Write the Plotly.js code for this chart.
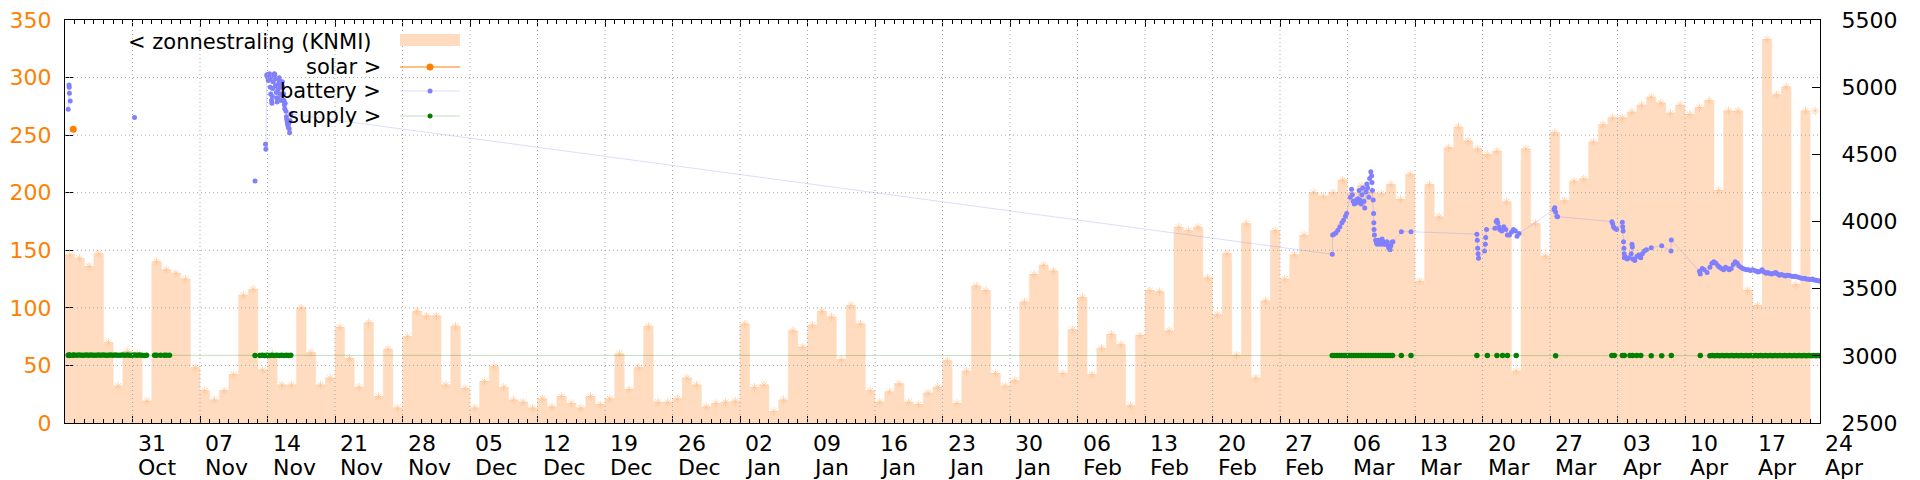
<!DOCTYPE html>
<html><head><meta charset="utf-8">
<script src="https://cdn.plot.ly/plotly-3.0.1.min.js"></script>
<style>html,body{margin:0;padding:0;background:#fff}#chart{width:1920px;height:480px}</style>
</head><body><div id="chart"></div>
<script>
// ---- daily solar radiation (KNMI), left axis, one value per day from knmiStart ----
const knmiStart = '2022-10-24';
const knmiValues = [
 146,143,136,147,70,32,62,60,19,140,
 133,130,125,48,28,20,28,42,111,116,
 46,60,33,33,100,61,33,39,83,56,
 31,87,23,64,13,75,97,93,93,33,
 84,30,13,36,49,31,20,18,13,21,
 14,23,17,13,23,16,21,60,29,48,
 84,18,18,21,39,33,14,17,18,19,
 86,31,33,10,20,80,66,85,97,92,
 55,102,86,28,18,27,34,18,16,26,
 31,54,17,45,119,115,43,32,37,105,
 129,137,132,43,81,109,42,65,77,68,
 15,76,115,114,80,170,167,170,126,94,
 147,59,173,39,106,167,125,146,163,200,
 197,200,211,200,206,200,199,207,194,216,
 123,207,179,239,257,245,238,233,236,192,
 45,238,173,145,252,193,210,212,244,259,
 265,265,270,276,283,278,269,276,268,274,
 280,202,271,271,115,102,333,285,292,120,
 271,271];

// ---- x axis ticks ----
const tickDates = ['2022-10-31','2022-11-07','2022-11-14','2022-11-21','2022-11-28','2022-12-05','2022-12-12','2022-12-19','2022-12-26',
 '2023-01-02','2023-01-09','2023-01-16','2023-01-23','2023-01-30','2023-02-06','2023-02-13','2023-02-20','2023-02-27',
 '2023-03-06','2023-03-13','2023-03-20','2023-03-27','2023-04-03','2023-04-10','2023-04-17','2023-04-24'];
const tickDays = ['31','07','14','21','28','05','12','19','26','02','09','16','23','30','06','13','20','27','06','13','20','27','03','10','17','24'];
const tickMonths = ['Oct','Nov','Nov','Nov','Nov','Dec','Dec','Dec','Dec','Jan','Jan','Jan','Jan','Jan','Feb','Feb','Feb','Feb','Mar','Mar','Mar','Mar','Apr','Apr','Apr','Apr'];
const leftTicks = [0,50,100,150,200,250,300,350];
const rightTicks = [2500,3000,3500,4000,4500,5000,5500];

// ---- solar (right axis) ----
const solarTime = ['2022-10-24 20:30'];
const solarValue = [4686];

// ---- battery (right axis); null = gap in the record ----
const batteryTime = [
 '2022-10-24 08:00','2022-10-24 10:00','2022-10-24 10:30','2022-10-24 11:00','2022-10-24 13:00','2022-10-24 14:00',
 '2022-10-31 05:00','2022-10-31 06:00',
 '2022-11-12 17:00','2022-11-12 18:00',
 '2022-11-13 19:00','2022-11-13 20:00',
 '2022-11-13 22:00','2022-11-13 23:00','2022-11-14 00:00','2022-11-14 01:00','2022-11-14 02:00','2022-11-14 04:00','2022-11-14 05:00','2022-11-14 06:00',
 '2022-11-14 07:00','2022-11-14 08:00','2022-11-14 10:00','2022-11-14 11:00','2022-11-14 12:00','2022-11-14 13:00','2022-11-14 14:00','2022-11-14 16:00',
 '2022-11-14 17:00','2022-11-14 18:00','2022-11-14 19:00','2022-11-14 20:00','2022-11-14 22:00','2022-11-14 23:00','2022-11-15 00:00','2022-11-15 01:00',
 '2022-11-15 02:00','2022-11-15 04:00','2022-11-15 05:00','2022-11-15 06:00','2022-11-15 07:00','2022-11-15 08:00','2022-11-15 10:00','2022-11-15 11:00',
 '2022-11-15 12:00','2022-11-15 13:00','2022-11-15 14:00','2022-11-15 16:00','2022-11-15 17:00','2022-11-15 18:00','2022-11-15 19:00','2022-11-15 20:00',
 '2022-11-15 22:00','2022-11-15 23:00','2022-11-16 00:00','2022-11-16 01:00','2022-11-16 02:00','2022-11-16 04:00','2022-11-16 05:00','2022-11-16 06:00',
 '2022-11-16 07:00','2022-11-16 08:00','2022-11-16 10:00',
 '2023-03-04 10:00','2023-03-04 11:00','2023-03-04 14:00','2023-03-04 19:00','2023-03-05 00:00','2023-03-05 05:00','2023-03-05 10:00','2023-03-05 14:00',
 '2023-03-05 19:00','2023-03-05 22:00','2023-03-06 07:00','2023-03-06 10:00','2023-03-06 12:00','2023-03-06 14:00','2023-03-06 17:00','2023-03-06 19:00',
 '2023-03-06 22:00','2023-03-07 00:00','2023-03-07 02:00','2023-03-07 05:00','2023-03-07 07:00','2023-03-07 10:00','2023-03-07 12:00','2023-03-07 14:00',
 '2023-03-07 17:00','2023-03-07 19:00','2023-03-07 22:00','2023-03-08 00:00','2023-03-08 02:00','2023-03-08 05:00','2023-03-08 07:00','2023-03-08 10:00',
 '2023-03-08 12:00','2023-03-08 13:00','2023-03-08 14:00','2023-03-08 16:00','2023-03-08 17:00','2023-03-08 17:30','2023-03-08 18:00','2023-03-08 19:00',
 '2023-03-08 22:00','2023-03-09 00:00','2023-03-09 02:00','2023-03-09 05:00','2023-03-09 07:00','2023-03-09 10:00','2023-03-09 12:00','2023-03-09 14:00',
 '2023-03-09 17:00','2023-03-09 19:00','2023-03-09 22:00','2023-03-10 00:00','2023-03-10 02:00','2023-03-10 05:00','2023-03-10 07:00','2023-03-10 10:00',
 '2023-03-10 12:00','2023-03-10 14:00','2023-03-10 17:00','2023-03-11 14:00','2023-03-12 14:00',
 '2023-03-19 10:00','2023-03-19 11:00','2023-03-19 12:00','2023-03-19 13:00','2023-03-19 14:00','2023-03-20 05:00','2023-03-20 07:00','2023-03-20 08:00',
 '2023-03-20 10:00','2023-03-21 07:00','2023-03-21 10:00','2023-03-21 12:00','2023-03-21 14:00','2023-03-21 17:00','2023-03-21 19:00','2023-03-22 00:00',
 '2023-03-22 05:00','2023-03-22 10:00','2023-03-22 14:00','2023-03-22 19:00','2023-03-23 00:00','2023-03-23 05:00','2023-03-23 10:00','2023-03-23 14:00',
 '2023-03-23 19:00',
 '2023-03-27 10:00','2023-03-27 12:00','2023-03-27 14:00','2023-03-27 17:00','2023-03-27 19:00',
 '2023-04-02 10:00','2023-04-02 12:00','2023-04-02 14:00','2023-04-02 17:00','2023-04-02 22:00','2023-04-03 12:00','2023-04-03 13:00','2023-04-03 14:00',
 '2023-04-03 15:00','2023-04-03 16:00','2023-04-03 16:30','2023-04-03 17:00','2023-04-03 19:00','2023-04-04 00:00','2023-04-04 05:00','2023-04-04 10:00',
 '2023-04-04 12:00','2023-04-04 13:00','2023-04-04 14:00','2023-04-04 19:00','2023-04-05 00:00','2023-04-05 05:00','2023-04-05 10:00','2023-04-05 14:00',
 '2023-04-05 19:00','2023-04-06 00:00','2023-04-06 12:00','2023-04-07 14:00','2023-04-08 13:00','2023-04-08 14:00',
 '2023-04-11 12:00','2023-04-11 14:00','2023-04-11 19:00','2023-04-12 00:00','2023-04-12 07:00','2023-04-12 14:00','2023-04-12 19:00',
 '2023-04-13 00:00','2023-04-13 05:00','2023-04-13 10:00','2023-04-13 14:00','2023-04-13 19:00',
 '2023-04-14 00:00','2023-04-14 05:00','2023-04-14 10:00','2023-04-14 14:00','2023-04-14 19:00',
 '2023-04-15 00:00','2023-04-15 05:00','2023-04-15 10:00','2023-04-15 14:00','2023-04-15 19:00',
 '2023-04-16 00:00','2023-04-16 05:00','2023-04-16 10:00','2023-04-16 14:00','2023-04-16 19:00',
 '2023-04-17 00:00','2023-04-17 05:00','2023-04-17 10:00','2023-04-17 14:00','2023-04-17 19:00',
 '2023-04-18 00:00','2023-04-18 05:00','2023-04-18 10:00','2023-04-18 14:00','2023-04-18 19:00',
 '2023-04-19 00:00','2023-04-19 05:00','2023-04-19 10:00','2023-04-19 14:00','2023-04-19 19:00',
 '2023-04-20 00:00','2023-04-20 05:00','2023-04-20 10:00','2023-04-20 14:00','2023-04-20 19:00',
 '2023-04-21 00:00','2023-04-21 05:00','2023-04-21 10:00','2023-04-21 14:00','2023-04-21 19:00',
 '2023-04-22 00:00','2023-04-22 05:00','2023-04-22 10:00','2023-04-22 14:00','2023-04-22 19:00',
 '2023-04-23 00:00','2023-04-23 05:00','2023-04-23 10:00','2023-04-23 14:00','2023-04-23 19:00',
 '2023-04-24 00:00'];
const batteryValue = [
 4835,5016,5000,4954,4897,null,
 4775,null,
 4301,null,
 4575,4537,
 5090,5080,5095,5070,5050,5085,5100,5060,
 5000,4950,4900,4880,4930,4990,5040,5080,
 5100,5095,5060,5010,4960,4920,4890,4920,
 4980,5030,5070,5050,5000,4950,4900,4940,
 5010,5040,5000,4950,4900,4870,4840,4880,
 4820,4780,4760,4740,4720,4700,4730,4690,
 4660,4750,4800,
 3756,3900,3905,3915,3935,3960,3990,4010,
 4040,4060,4180,4240,4200,4150,4130,4150,
 4160,4140,4170,4230,4160,4130,4200,4250,
 4150,4100,4220,4280,4250,4180,4320,4371,
 4340,4290,4230,4160,4060,3990,3940,3900,
 3860,3840,3830,3860,3840,3830,3835,3870,
 3850,3830,3840,3830,3850,3820,3800,3790,
 3820,3845,3850,3924,3924,
 3906,3860,3800,3760,3726,3780,3830,3880,
 3940,3950,4000,4010,3990,3960,3940,3930,
 3960,3940,3900,3900,3920,3940,3930,3890,
 3910,
 4090,4103,4070,4040,4036,
 3999,3985,3960,3950,3940,3995,3960,3930,
 3850,3800,3760,3730,3740,3720,3730,3760,
 3830,3810,3720,3710,3740,3750,3730,3760,
 3780,3790,3805,3820,3780,3862,
 3630,3610,3650,3640,3620,3660,3690,
 3700,3690,3670,3660,3650,
 3640,3660,3650,3640,3650,
 3680,3700,3690,3670,3660,
 3650,3645,3640,3640,3635,
 3640,3635,3630,3625,3630,
 3640,3625,3615,3620,3612,
 3610,3615,3620,3610,3600,
 3605,3600,3595,3600,3598,
 3595,3590,3592,3588,3585,
 3580,3575,3578,3572,3570,
 3568,3572,3565,3562,3560,
 3556];

// ---- supply (right axis) ----
const supplyTime = [
 '2022-10-24 08:00','2022-10-24 10:00','2022-10-24 11:00','2022-10-24 13:00','2022-10-24 20:00','2022-10-24 22:00',
 '2022-10-25 05:00','2022-10-25 11:00','2022-10-25 17:00','2022-10-25 23:00','2022-10-26 05:00','2022-10-26 11:00','2022-10-26 17:00','2022-10-26 23:00',
 '2022-10-27 05:00','2022-10-27 11:00','2022-10-27 17:00','2022-10-27 23:00','2022-10-28 05:00','2022-10-28 11:00','2022-10-28 17:00','2022-10-28 23:00',
 '2022-10-29 05:00','2022-10-29 11:00','2022-10-29 17:00','2022-10-29 23:00','2022-10-30 05:00','2022-10-30 11:00','2022-10-30 17:00','2022-10-30 23:00',
 '2022-10-31 05:00','2022-10-31 11:00','2022-10-31 17:00','2022-10-31 23:00','2022-11-01 05:00','2022-11-01 11:00',
 '2022-11-02 07:00','2022-11-02 12:00','2022-11-02 22:00','2022-11-03 07:00','2022-11-03 12:00','2022-11-03 20:00',
 '2022-11-12 17:00',
 '2022-11-13 05:00','2022-11-13 11:00','2022-11-13 17:00','2022-11-13 23:00','2022-11-14 05:00','2022-11-14 11:00','2022-11-14 17:00','2022-11-14 23:00',
 '2022-11-15 05:00','2022-11-15 11:00','2022-11-15 17:00','2022-11-15 23:00','2022-11-16 05:00','2022-11-16 10:00',
 '2023-03-04 10:00','2023-03-04 16:00','2023-03-04 22:00','2023-03-05 04:00','2023-03-05 10:00','2023-03-05 16:00','2023-03-05 22:00',
 '2023-03-06 04:00','2023-03-06 10:00','2023-03-06 16:00','2023-03-06 22:00','2023-03-07 04:00','2023-03-07 10:00','2023-03-07 16:00','2023-03-07 22:00',
 '2023-03-08 04:00','2023-03-08 10:00','2023-03-08 16:00','2023-03-08 22:00','2023-03-09 04:00','2023-03-09 10:00','2023-03-09 16:00','2023-03-09 22:00',
 '2023-03-10 04:00','2023-03-10 10:00','2023-03-10 16:00','2023-03-11 14:00','2023-03-12 14:00',
 '2023-03-19 10:00','2023-03-20 12:00','2023-03-21 12:00','2023-03-22 02:00','2023-03-22 14:00','2023-03-23 12:00',
 '2023-03-27 14:00',
 '2023-04-02 10:00','2023-04-02 16:00','2023-04-03 12:00','2023-04-03 17:00','2023-04-04 07:00','2023-04-04 14:00','2023-04-05 00:00','2023-04-05 10:00',
 '2023-04-06 12:00','2023-04-07 14:00','2023-04-08 14:00','2023-04-11 14:00',
 '2023-04-12 14:00','2023-04-12 20:00',
 '2023-04-13 02:00','2023-04-13 08:00','2023-04-13 14:00','2023-04-13 20:00','2023-04-14 02:00','2023-04-14 08:00','2023-04-14 14:00','2023-04-14 20:00',
 '2023-04-15 02:00','2023-04-15 08:00','2023-04-15 14:00','2023-04-15 20:00','2023-04-16 02:00','2023-04-16 08:00','2023-04-16 14:00','2023-04-16 20:00',
 '2023-04-17 02:00','2023-04-17 08:00','2023-04-17 14:00','2023-04-17 20:00','2023-04-18 02:00','2023-04-18 08:00','2023-04-18 14:00','2023-04-18 20:00',
 '2023-04-19 02:00','2023-04-19 08:00','2023-04-19 14:00','2023-04-19 20:00','2023-04-20 02:00','2023-04-20 08:00','2023-04-20 14:00','2023-04-20 20:00',
 '2023-04-21 02:00','2023-04-21 08:00','2023-04-21 14:00','2023-04-21 20:00','2023-04-22 02:00','2023-04-22 08:00','2023-04-22 14:00','2023-04-22 20:00',
 '2023-04-23 02:00','2023-04-23 08:00','2023-04-23 14:00','2023-04-23 20:00','2023-04-24 00:00'];
const supplyValue = [
 3004,3006,3003,3005,3004,3006,
 3005,3006,3005,3004,3006,3005,3006,3005,
 3004,3006,3005,3006,3005,3004,3006,3005,
 3006,3005,3004,3006,3005,3006,3005,3004,
 3006,3005,3006,3005,3002,3004,
 3004,3005,3004,3005,3004,3005,
 3002,
 3003,3004,3003,3004,3003,3004,3003,3004,
 3003,3004,3003,3004,3003,3004,
 3002,3003,3002,3003,3002,3003,3002,
 3003,3002,3003,3002,3003,3002,3003,3002,
 3003,3002,3003,3002,3003,3002,3003,3002,
 3003,3002,3003,3002,3003,
 3003,3002,3003,3002,3003,3002,
 3001,
 3002,3003,3002,3003,3002,3003,3002,3003,
 3001,3001,3002,3002,
 3001,3002,
 3001,3002,3001,3002,3001,3002,3001,3002,
 3001,3002,3001,3002,3001,3002,3001,3002,
 3001,3002,3001,3002,3001,3002,3001,3002,
 3001,3002,3001,3002,3001,3002,3001,3002,
 3001,3002,3001,3002,3001,3002,3001,3002,
 3001,3002,3001,3002,3001];

// ---- colours / styling ----
const PEACH = '#ffdcbf';
const STAR = 'rgba(255,196,150,0.75)';
const ORANGE = '#ff8000';
const BLUE = '#8080ff';
const GREEN = '#008000';
const FONT = 'DejaVu Sans';

function dayString(start, offset, hour) {
  const d = new Date(start + 'T00:00:00Z');
  d.setUTCDate(d.getUTCDate() + offset);
  return d.toISOString().slice(0, 10) + (hour ? ' ' + hour : '');
}
const knmiDates = knmiValues.map((_, i) => dayString(knmiStart, i));
const knmiMid = knmiValues.map((_, i) => dayString(knmiStart, i, '12:00'));

const traces = [
  {x: knmiDates, y: knmiValues, type: 'scatter', mode: 'lines', line: {shape: 'hv', width: 0.5, color: PEACH},
   fill: 'tozeroy', fillcolor: PEACH, yaxis: 'y', hoverinfo: 'skip'},
  {x: knmiMid, y: knmiValues, type: 'scatter', mode: 'markers', yaxis: 'y',
   marker: {symbol: 'asterisk-open', size: 7, color: STAR, line: {width: 1, color: STAR}}, hoverinfo: 'skip'},
  {x: [knmiDates[0], knmiDates[knmiDates.length - 1]], y: [0, 0], type: 'scatter', mode: 'lines', yaxis: 'y',
   line: {color: PEACH, width: 12}, cliponaxis: false, hoverinfo: 'skip'},
  {x: solarTime, y: solarValue, type: 'scatter', mode: 'lines+markers', yaxis: 'y2',
   line: {color: ORANGE, width: 1}, marker: {color: ORANGE, size: 7}},
  {x: batteryTime, y: batteryValue, type: 'scatter', mode: 'lines+markers', yaxis: 'y2', connectgaps: false,
   line: {color: 'rgba(128,128,255,0.28)', width: 1}, marker: {color: BLUE, size: 5}},
  {x: supplyTime, y: supplyValue, type: 'scatter', mode: 'lines+markers', yaxis: 'y2',
   line: {color: 'rgba(0,128,0,0.25)', width: 1}, marker: {color: GREEN, size: 5.5}}
];

const shapes = [];
tickDates.slice(0, -1).forEach(d => shapes.push({type: 'line', xref: 'x', yref: 'paper', x0: d, x1: d, y0: 0, y1: 1,
  line: {color: '#a8a8a8', width: 1, dash: '1px,3px'}, layer: 'above'}));
leftTicks.slice(1, -1).forEach(v => shapes.push({type: 'line', xref: 'paper', yref: 'y', x0: 0, x1: 1, y0: v, y1: v,
  line: {color: '#a8a8a8', width: 1, dash: '1px,3px'}, layer: 'above'}));

// legend (gnuplot style: right-aligned text, sample to the right)
const legX0 = 0.1909, legX1 = 0.2251, legXc = 0.208;
const legRows = [
  {text: '&lt; zonnestraling (KNMI)', xr: 0.1760, y: 0.9454},
  {text: 'solar &gt;', xr: 0.1812, y: 0.8834, line: ORANGE, dot: ORANGE, r: 3.5},
  {text: 'battery &gt;', xr: 0.1812, y: 0.8238, line: 'rgba(128,128,255,0.28)', dot: BLUE, r: 2.5},
  {text: 'supply &gt;', xr: 0.1812, y: 0.7618, line: 'rgba(0,128,0,0.25)', dot: GREEN, r: 2.5}
];
shapes.push({type: 'rect', xref: 'paper', yref: 'paper', x0: legX0, x1: legX1, y0: 0.9355, y1: 0.9653,
  fillcolor: PEACH, line: {width: 0}, layer: 'above'});
legRows.slice(1).forEach(r => {
  shapes.push({type: 'line', xref: 'paper', yref: 'paper', x0: legX0, x1: legX1, y0: r.y, y1: r.y,
    line: {color: r.line, width: 1}, layer: 'above'});
  shapes.push({type: 'circle', xref: 'paper', yref: 'paper', xsizemode: 'pixel', ysizemode: 'pixel',
    xanchor: legXc, yanchor: r.y, x0: -r.r, x1: r.r, y0: -r.r, y1: r.r,
    fillcolor: r.dot, line: {width: 0}, layer: 'above'});
});

const annotations = [];
legRows.forEach(r => annotations.push({text: r.text, xref: 'paper', yref: 'paper', x: r.xr, y: r.y,
  xanchor: 'right', yanchor: 'middle', showarrow: false, font: {family: FONT, size: 21, color: '#000'}}));
tickDates.forEach((d, i) => {
  annotations.push({text: tickDays[i], xref: 'x', yref: 'paper', x: d, y: 0, xanchor: 'left', yanchor: 'middle',
    xshift: 3, yshift: -20, showarrow: false, font: {family: FONT, size: 22, color: '#000'}});
  annotations.push({text: tickMonths[i], xref: 'x', yref: 'paper', x: d, y: 0, xanchor: 'left', yanchor: 'middle',
    xshift: 3, yshift: -44, showarrow: false, font: {family: FONT, size: 22, color: '#000'}});
});

const layout = {
  width: 1920, height: 480,
  margin: {l: 65, r: 100, t: 20, b: 57, pad: 0},
  paper_bgcolor: '#fff', plot_bgcolor: '#fff',
  showlegend: false,
  font: {family: FONT, size: 22, color: '#000'},
  xaxis: {type: 'date', range: ['2022-10-24', '2023-04-24'], tickmode: 'array', tickvals: tickDates,
    showticklabels: false, ticks: 'inside', ticklen: 7, tickcolor: '#000', tickwidth: 1,
    showline: true, linecolor: '#000', linewidth: 1, mirror: 'ticks', showgrid: false, zeroline: false,
    minor: {dtick: 86400000, tick0: '2022-10-24', ticks: 'inside', ticklen: 4, tickcolor: '#000', showgrid: false},
    automargin: false},
  yaxis: {range: [0, 350], tickmode: 'array', tickvals: leftTicks, ticks: 'inside', ticklen: 8, tickcolor: '#000',
    showline: true, linecolor: '#000', linewidth: 1, showgrid: false, zeroline: false,
    tickfont: {family: FONT, size: 22, color: ORANGE}, ticklabelstandoff: 8, automargin: false},
  yaxis2: {overlaying: 'y', side: 'right', range: [2500, 5500], tickmode: 'array', tickvals: rightTicks,
    ticks: 'inside', ticklen: 8, tickcolor: '#000', showline: true, linecolor: '#000', linewidth: 1,
    showgrid: false, zeroline: false, tickfont: {family: FONT, size: 22, color: '#000'},
    ticklabelstandoff: 16, automargin: false},
  shapes: shapes,
  annotations: annotations
};

Plotly.newPlot('chart', traces, layout, {displayModeBar: false, staticPlot: true});
</script>
</body></html>
